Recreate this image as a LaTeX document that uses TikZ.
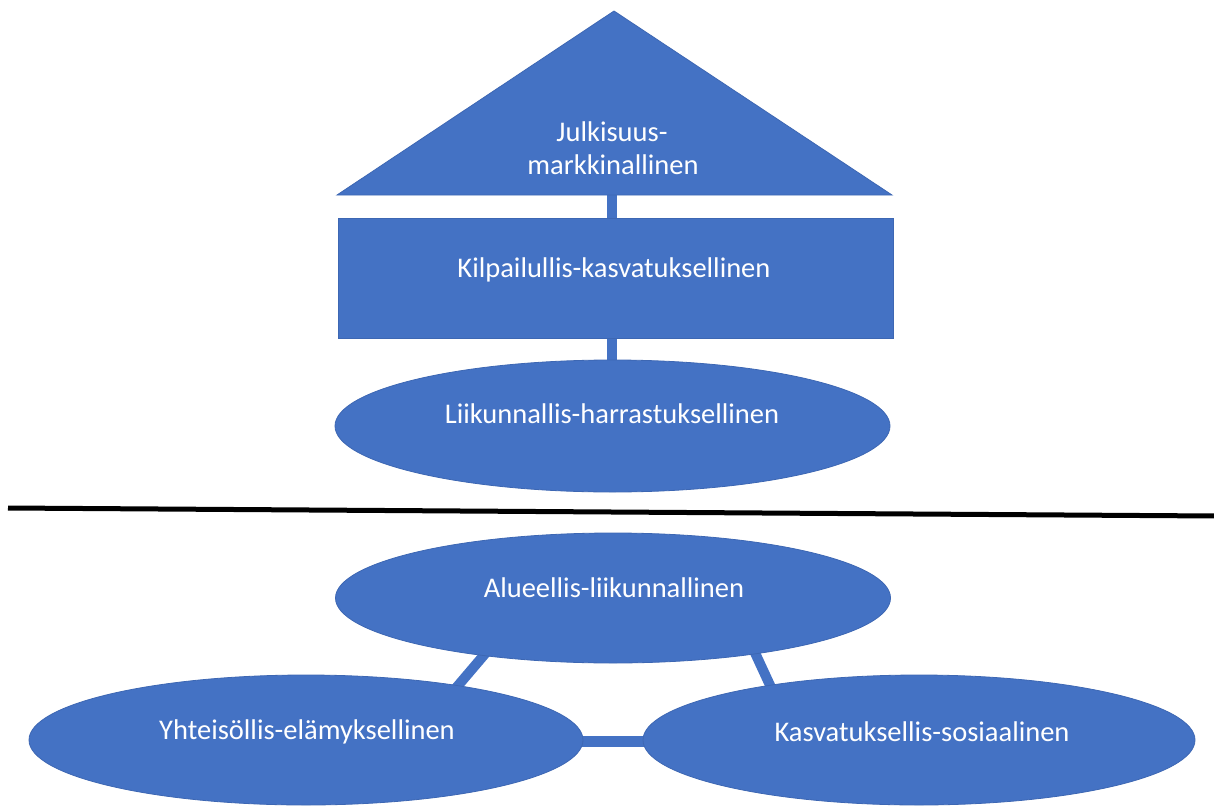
\documentclass[tikz,border=0pt]{standalone}
\usepackage{fontspec}
\setmainfont{Carlito}
\usetikzlibrary{shapes.geometric,calc,backgrounds}
\definecolor{officeblue}{HTML}{4472C4}
\definecolor{officeedge}{HTML}{3D67B3}
\tikzset{
  shapebox/.style={fill=officeblue, draw=officeedge, line width=0.8pt, inner sep=0pt},
  oval/.style={shapebox, ellipse, minimum width=#1, minimum height=130pt},
  bar/.style={draw=officeblue, line width=10pt},
  lbl/.style={text=white, font=\fontsize{28.5}{33}\selectfont, anchor=base, inner sep=0pt}
}
\begin{document}
\begin{tikzpicture}[x=1pt,y=-1pt]
\useasboundingbox (0,0) rectangle (1214,805);
\clip (0,0) rectangle (1214,805);

% triangle
\coordinate (triL) at (337,195);
\coordinate (triR) at (892,195);
\coordinate (triT) at (614,11);
\filldraw[shapebox] (triL) -- (triT) -- (triR) -- cycle;
\coordinate (triB) at (612,190);

% rectangle
\node[shapebox, rectangle, minimum width=555pt, minimum height=120pt] (rect) at (615.5,278) {};

% ellipses
\node[oval=555pt, minimum height=132pt] (e1) at (612.5,426) {};
\node[oval=555pt] (e2) at (613,598) {};
\node[oval=554pt] (e3) at (306,740) {};
\node[oval=552pt] (e4) at (919,740) {};

% connector bars behind shapes
\begin{pgfonlayer}{background}
\draw[bar] (triB) -- (rect.north -| triB) -- ++(0,4);
\draw[bar] ($(rect.south)+(-3.5,-4)$) -- ($(e1.north)+(-0.5,6)$);
\draw[bar] ($(e2.center)+(-123,50)$) -- ($(e3.center)+(144,-45)$);
\draw[bar] ($(e2.center)+(137,44)$) -- ($(e4.center)+(-144,-44)$);
\draw[bar, line width=11pt] ($(e3.center)+(250,1)$) -- ($(e4.center)+(-250,1)$);
\end{pgfonlayer}

% dividing line
\coordinate (lineL) at (8,508);
\coordinate (lineR) at (1216,516);
\draw[black, line width=5pt] (lineL) -- (lineR);

% labels
\node[lbl] (tJ1) at (612,142) {Julkisuus-};
\node[lbl] (tJ2) at (613,175) {markkinallinen};
\node[lbl] (tK) at (614,277) {Kilpailullis-kasvatuksellinen};
\node[lbl] (tL) at (612,423) {Liikunnallis-harrastuksellinen};
\node[lbl] (tA) at (614,597) {Alueellis-liikunnallinen};
\node[lbl] (tY) at (307,739) {Yhteisöllis-elämyksellinen};
\node[lbl] (tS) at (922,741) {Kasvatuksellis-sosiaalinen};
\end{tikzpicture}
\end{document}
